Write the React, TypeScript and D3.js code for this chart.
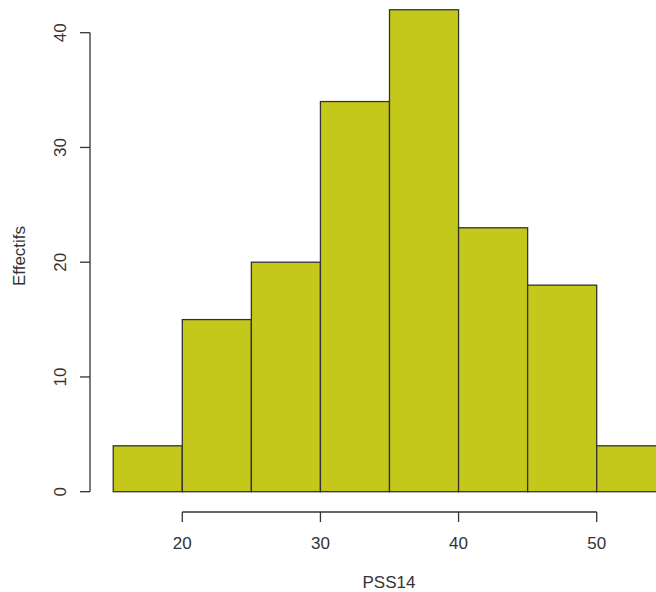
import React from "react";
import * as d3 from "d3";

const binStarts = [15, 20, 25, 30, 35, 40, 45, 50];
const binWidth = 5;
const counts = [4, 15, 20, 34, 42, 23, 18, 4];
const xTicks = [20, 30, 40, 50];
const yTicks = [0, 10, 20, 30, 40];
const xLabel = "PSS14";
const yLabel = "Effectifs";

export default function App() {
  const W = 656, H = 592;
  const x = d3.scaleLinear().domain([20, 50]).range([182.3, 596.7]);
  const y = d3.scaleLinear().domain([0, 40]).range([491.7, 32.7]);
  const stroke = "#333";
  const font = "Liberation Sans, Arial, sans-serif";
  const fs = 17;
  const axisY = 512;
  const axisX = 90;
  return (
    <svg width={W} height={H} style={{ position: "absolute", left: 0, top: 0, background: "#fff" }}>
      {binStarts.map((s, i) => (
        <rect
          key={i}
          x={x(s)}
          y={y(counts[i])}
          width={x(s + binWidth) - x(s)}
          height={y(0) - y(counts[i])}
          fill="#c4c81a"
          stroke={stroke}
          strokeWidth={1.3}
        />
      ))}
      {/* x axis */}
      <line x1={x(xTicks[0])} x2={x(xTicks[xTicks.length - 1])} y1={axisY} y2={axisY} stroke={stroke} strokeWidth={1.3} />
      {xTicks.map((t) => (
        <g key={t}>
          <line x1={x(t)} x2={x(t)} y1={axisY} y2={axisY + 10} stroke={stroke} strokeWidth={1.3} />
          <text x={x(t)} y={axisY + 37} textAnchor="middle" fontFamily={font} fontSize={fs} fill="#333">{t}</text>
        </g>
      ))}
      {/* y axis */}
      <line x1={axisX} x2={axisX} y1={y(yTicks[0])} y2={y(yTicks[yTicks.length - 1])} stroke={stroke} strokeWidth={1.3} />
      {yTicks.map((t) => (
        <g key={t}>
          <line x1={axisX} x2={axisX - 10} y1={y(t)} y2={y(t)} stroke={stroke} strokeWidth={1.3} />
          <text transform={`translate(${axisX - 24},${y(t)}) rotate(-90)`} textAnchor="middle" fontFamily={font} fontSize={fs} fill="#333">{t}</text>
        </g>
      ))}
      <text x={389} y={588} textAnchor="middle" fontFamily={font} fontSize={fs} fill="#333">{xLabel}</text>
      <text transform={`translate(25,256) rotate(-90)`} textAnchor="middle" fontFamily={font} fontSize={fs} fill="#333">{yLabel}</text>
    </svg>
  );
}
